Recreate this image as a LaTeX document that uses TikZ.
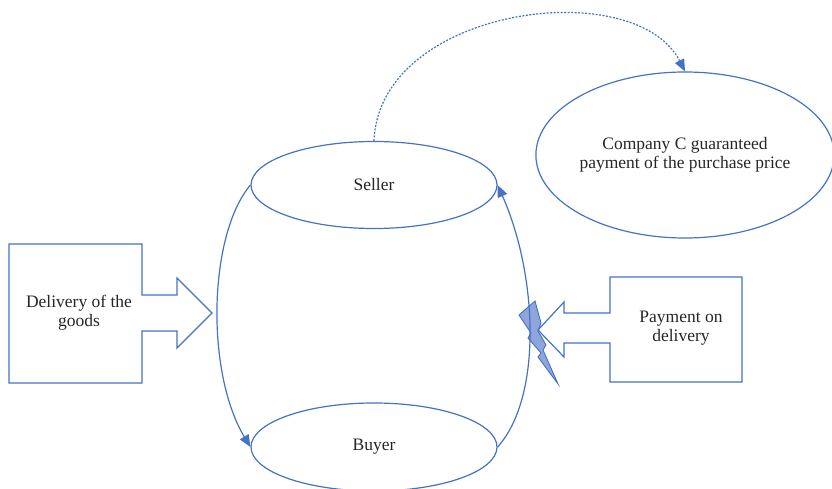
\documentclass[tikz,border=0pt]{standalone}
\usepackage{fontspec}
\setmainfont{Liberation Serif}
\usepackage{tikz}
\usetikzlibrary{arrows.meta,shapes.geometric}
\definecolor{lineblue}{HTML}{4472C4}
\definecolor{boltblue}{HTML}{8FA5DC}

\begin{document}
\begin{tikzpicture}[x=1pt,y=1pt,
  every node/.style={font=\fontsize{17.5}{19}\selectfont, text=black!85, align=center},
  party/.style={ellipse, draw=lineblue, line width=1.2pt, inner sep=0pt},
  flow/.style={draw=lineblue, line width=1.2pt},
  tipped/.style={-{Triangle[length=12pt,width=10pt]}}]
\useasboundingbox (0,0) rectangle (832,488);
% parties
\node[party, minimum width=246pt, minimum height=87pt] (seller) at (374,303) {Seller};
\node[party, minimum width=246pt, minimum height=88pt] (buyer) at (374,41) {Buyer};
\node[party, minimum width=296pt, minimum height=166pt] (company) at (685,333)
  {Company C guaranteed\\payment of the purchase price};
% lightning
\draw[flow, fill=boltblue, line width=0.9pt] (535,187) -- (541,165) -- (538,157) -- (546,143) -- (543,138)
  -- (558,104) -- (538,131) -- (541,135) -- (528,150) -- (531,155) -- (519,173) -- cycle;
% box arrows
\draw[flow] (9,244) -- (142,244) -- (142,193) -- (177,193) -- (177,210) -- (212,175)
  -- (177,140) -- (177,157) -- (142,157) -- (142,105) -- (9,105) -- cycle;
\node (delivery) at (79,175) {Delivery of the\\goods};
\draw[flow] (742,211) -- (610,211) -- (610,175) -- (564,175) -- (564,186) -- (538,158)
  -- (564,131) -- (564,145) -- (610,145) -- (610,106) -- (742,106) -- cycle;
\node (payment) at (681,160) {Payment on\\delivery};
% flows
\draw[flow, tipped] (seller.west) .. controls +(-42,-50) and +(-45,75) .. (buyer.west);
\draw[flow, tipped] (buyer.east) .. controls +(45,50) and +(40,-90) .. (seller.east);
\draw[flow, tipped, dash pattern=on 2pt off 1.5pt] (seller.north) .. controls +(5,134) and +(-50,98) .. (company.north);
\end{tikzpicture}
\end{document}
